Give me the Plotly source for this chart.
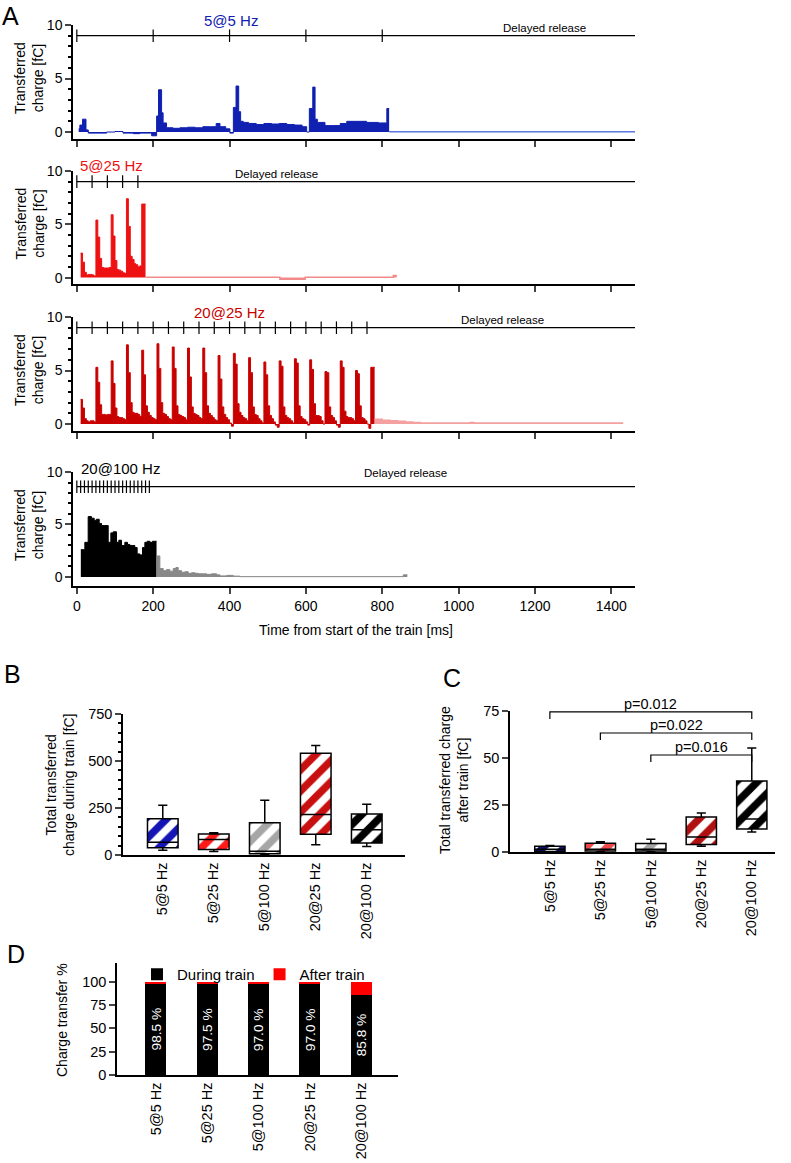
import plotly.graph_objects as go

W, H = 791, 1163
FONT = "Arial, Liberation Sans, sans-serif"


def fx(p):
    return p / W


def fy(p):
    return 1 - p / H


# ---------------- Panel A data (time in ms, charge in fC) ----------------
stim_5at5 = [0, 200, 400, 600, 800]
stim_5at25 = [0, 40, 80, 120, 160]
stim_20at25 = [0, 40, 80, 120, 160, 200, 240, 280, 320, 360,
               400, 440, 480, 520, 560, 600, 640, 680, 720, 760]
stim_20at100 = [0, 10, 20, 30, 40, 50, 60, 70, 80, 90,
                100, 110, 120, 130, 140, 150, 160, 170, 180, 190]

# 5@5 Hz: step starts and values
t_5at5 = [5, 8, 15, 24, 30, 78, 100, 121, 148, 165, 196,
          209, 214, 222, 226, 235, 252, 270, 290, 310, 330, 350, 365, 375, 390, 401,
          410, 417, 424, 429, 436, 450, 470, 490, 510, 530, 550, 570, 590, 602,
          609, 618, 624, 630, 650, 672, 690, 707, 730, 759, 790, 812]
q_5at5 = [0.3, 0.65, 1.2, 0.2, -0.1, 0.0, 0.05, -0.1, -0.15, -0.1, -0.35,
          1.5, 3.95, 1.8, 0.85, 0.4, 0.35, 0.4, 0.45, 0.4, 0.5, 0.5, 0.8, 0.5, 0.3, -0.1,
          2.3, 4.3, 1.9, 1.0, 0.9, 0.8, 0.7, 0.8, 0.75, 0.8, 0.7, 0.65, 0.5, 0.0,
          2.2, 4.2, 1.2, 0.9, 0.6, 0.6, 0.8, 1.0, 1.0, 0.9, 0.85, 2.2]
end_5at5 = 818
tail_t_5at5 = [818]
tail_q_5at5 = [0.03]
tail_end_5at5 = 1462

# 5@25 Hz: 5 ms bins from 10 ms
q_5at25 = [2.3, 1.45, 0.5, 0.25, 0.3, 0.3, 0.25, 0.15,
           5.4, 3.8, 1.8, 0.95, 0.9, 0.9, 0.9, 0.95,
           5.9, 3.9, 1.6, 0.75, 0.7, 0.6, 0.45, 0.4,
           7.4, 4.8, 2.0, 1.7, 1.3, 1.2, 1.0, 1.1,
           6.9, 6.9]
tail_t_5at25 = [180, 532, 598, 829]
tail_q_5at25 = [0.03, -0.15, 0.03, 0.2]
tail_end_5at25 = 838

# 20@25 Hz: 5 ms bins from 10 ms
q_20at25 = [2.3, 1.5, 0.5, 0.3, 0.2, 0.3, 0.3, 0.2,
            5.3, 3.9, 1.8, 0.9, 0.9, 0.85, 0.9, 0.9,
            5.9, 3.8, 1.5, 0.7, 0.6, 0.6, 0.5, 0.4,
            7.4, 4.8, 2.0, 1.1, 1.0, 1.0, 0.9, 0.7,
            6.9, 4.6, 1.7, 1.1, 0.8, 0.6, 0.5, 0.4,
            7.5, 5.2, 2.0, 1.0, 0.9, 0.7, 0.5, 0.4,
            7.2, 5.2, 1.7, 0.9, 0.8, 0.7, 0.6, 0.4,
            7.1, 4.4, 1.6, 1.0, 0.9, 0.8, 0.6, 0.5,
            7.1, 4.8, 1.7, 1.0, 0.8, 0.6, 0.4, 0.3,
            6.4, 4.2, 1.6, 0.9, 0.6, 0.4, 0.1, -0.2,
            6.6, 5.6, 1.9, 1.1, 0.8, 0.6, 0.5, 0.3,
            6.2, 4.8, 1.6, 0.9, 0.8, 0.5, 0.3, 0.1,
            5.8, 4.6, 1.7, 0.8, 0.5, 0.2, -0.1, -0.3,
            5.9, 5.4, 1.6, 0.8, 0.6, 0.5, 0.3, 0.1,
            6.1, 5.7, 1.7, 0.7, 0.5, 0.4, 0.2, -0.1,
            6.0, 5.1, 1.9, 0.8, 0.8, 0.7, 0.3, 0.0,
            4.9, 4.8, 1.6, 0.8, 0.6, 0.3, -0.1, -0.3,
            5.9, 5.3, 1.2, 0.7, 0.6, 0.6, 0.5, 0.3,
            5.0, 4.7, 1.7, 0.6, 0.5, 0.3, 0.0, -0.4,
            5.3, 5.3]
tail_t_20at25 = [780, 800, 820, 840, 860, 880, 900, 1030, 1040]
tail_q_20at25 = [0.45, 0.35, 0.3, 0.25, 0.2, 0.15, 0.1, 0.15, 0.1]
tail_end_20at25 = 1431

# 20@100 Hz
t_20at100 = [10.5, 21, 29.7, 38.4, 45.4, 51.6, 58.6, 64.7, 73.4, 82.2, 89.1, 95.2,
             103.9, 110, 117, 125.8, 132.7, 138.9, 145.8, 151.9, 158, 165, 172,
             178.2, 184.3, 191.3, 198.3, 204.4]
q_20at100 = [2.6, 3.3, 5.75, 5.6, 5.4, 5.5, 5.1, 4.9, 4.9, 3.3, 4.2, 4.3,
             3.3, 3.5, 3.0, 3.3, 3.1, 3.0, 3.0, 2.8, 2.2, 2.1, 2.8,
             3.3, 3.4, 3.3, 3.4, 3.4]
end_20at100 = 208.8
tail_t_20at100 = [208.8, 217.5, 226.3, 235, 243.7, 252.5, 259.4, 265.5, 274.3, 283,
                  291.8, 300.5, 309.3, 318, 331.1, 339.9, 353, 366.1, 374.8, 392.3,
                  409.7, 427.2, 855]
tail_q_20at100 = [2.0, 0.8, 0.6, 0.7, 0.55, 0.8, 0.9, 0.6, 0.45, 0.5,
                  0.35, 0.4, 0.35, 0.3, 0.3, 0.25, 0.3, 0.2, 0.1, 0.15,
                  0.08, 0.03, 0.2]
tail_end_20at100 = 865.6

BIN = 5
T0 = 10

# ---------------- Panels B, C, D data ----------------
conditions = ["5@5 Hz", "5@25 Hz", "5@100 Hz", "20@25 Hz", "20@100 Hz"]

b_q1 = [39, 29, 7, 111, 64]
b_med = [68, 82, 20, 216, 134]
b_q3 = [193, 112, 171, 541, 218]
b_low = [25, 18, 4, 54, 45]
b_high = [264, 118, 291, 582, 270]
b_colors = ["#1515b5", "#ff1a1a", "#a6a6a6", "#c81010", "#000000"]

c_q1 = [0.3, 0.5, 0.5, 4.0, 12.2]
c_med = [1.5, 1.5, 1.5, 8.0, 17.5]
c_q3 = [3.0, 4.7, 4.5, 18.6, 37.8]
c_low = [0.2, 0.3, 0.3, 3.0, 10.6]
c_high = [3.5, 5.4, 6.8, 20.7, 55.3]
c_colors = ["#101070", "#f04848", "#a6a6a6", "#b01010", "#000000"]

c_pairs = [("5@5 Hz", "20@100 Hz"), ("5@25 Hz", "20@100 Hz"), ("5@100 Hz", "20@100 Hz")]
c_pvals = ["p=0.012", "p=0.022", "p=0.016"]
c_bracket_y = [74.5, 63.3, 51.6]

d_during = [98.5, 97.5, 97.0, 97.0, 85.8]
d_after = [1.5, 2.5, 3.0, 3.0, 14.2]

fig = go.Figure()


def step_xy(starts, vals, end):
    return list(starts) + [end], list(vals) + [vals[-1]]


def add_step(starts, vals, end, color, ax, width=1):
    x, y = step_xy(starts, vals, end)
    fig.add_trace(go.Scatter(x=x, y=y, mode="lines", line_shape="hv",
                             fill="tozeroy", fillcolor=color,
                             line=dict(color=color, width=width),
                             xaxis="x" + ax, yaxis="y" + ax,
                             showlegend=False, hoverinfo="skip"))


def bins(vals):
    starts = [T0 + BIN * i for i in range(len(vals))]
    return starts, starts[-1] + BIN


# A rows: (axis id, top px, bottom px, ymin, stim, tick-row y)
rows = [("", 25, 139, -0.65, stim_5at5, 9.0),
        ("2", 171, 284, -0.6, stim_5at25, 9.0),
        ("3", 317, 431, -0.65, stim_20at25, 9.0),
        ("4", 472, 586, -0.86, stim_20at100, 8.6)]

XMAX = 1462

# traces
add_step(t_5at5, q_5at5, end_5at5, "#1020b0", "")
add_step(tail_t_5at5, tail_q_5at5, tail_end_5at5, "#5a78e0", "", 1.5)

s, e = bins(q_5at25)
add_step(s, q_5at25, e, "#ee1111", "2")
add_step(tail_t_5at25, tail_q_5at25, tail_end_5at25, "#f28a8a", "2", 1.5)

s, e = bins(q_20at25)
add_step(s, q_20at25, e, "#c80000", "3")
add_step(tail_t_20at25, tail_q_20at25, tail_end_20at25, "#f4a0a0", "3", 1.5)

add_step(t_20at100, q_20at100, end_20at100, "#000000", "4")
add_step(tail_t_20at100, tail_q_20at100, tail_end_20at100, "#888888", "4")

annotations = []
for ax, top, bot, ymin, stim, ty in rows:
    fig.add_trace(go.Scatter(x=[stim[0], XMAX], y=[ty, ty], mode="lines",
                             line=dict(color="black", width=1.2),
                             xaxis="x" + ax, yaxis="y" + ax,
                             showlegend=False, hoverinfo="skip"))
    fig.add_trace(go.Scatter(x=stim, y=[ty] * len(stim), mode="markers",
                             marker=dict(symbol="line-ns", size=9,
                                         line=dict(color="black", width=1.2)),
                             xaxis="x" + ax, yaxis="y" + ax,
                             showlegend=False, hoverinfo="skip"))
    fig.update_layout(**{
        "xaxis" + ax: dict(domain=[fx(73), fx(635)], range=[-10, XMAX],
                           anchor="y" + ax, showline=True, linecolor="black",
                           linewidth=1.5, ticks="outside", ticklen=6, tickwidth=1.5,
                           tickvals=[0, 200, 400, 600, 800, 1000, 1200, 1400],
                           showticklabels=(ax == "4"), showgrid=False, zeroline=False,
                           automargin=False,
                           tickfont=dict(size=14, family=FONT, color="black")),
        "yaxis" + ax: dict(domain=[fy(bot), fy(top)], range=[ymin, 10],
                           anchor="x" + ax, showline=True, linecolor="black",
                           linewidth=1.5, ticks="outside", ticklen=6, tickwidth=1.5,
                           tickvals=[0, 5, 10], showgrid=False, zeroline=False,
                           automargin=False,
                           minor=dict(ticks="outside", dtick=1, ticklen=3,
                                      tickcolor="black", showgrid=False),
                           tickfont=dict(size=14, family=FONT, color="black")),
    })
    annotations.append(dict(text="Transferred<br>charge [fC]", x=fx(29),
                            y=fy((top + bot) / 2 - 4), xref="paper", yref="paper",
                            xanchor="center", yanchor="middle",
                            textangle=-90, showarrow=False,
                            font=dict(size=14, family=FONT, color="black")))

# Train labels (y in page pixels, above the axis top) and "Delayed release" labels
a_labels = [("", "5@5 Hz", 404, 21, "center", "#1020b0", 1226, 9.75),
            ("2", "5@25 Hz", 3, 166, "left", "#ee1111", 524, 9.75),
            ("3", "20@25 Hz", 401, 312, "center", "#c80000", 1114, 9.75),
            ("4", "20@100 Hz", 5, 468, "left", "#000000", 860, 9.9)]
for ax, lab, lx, ly, anc, col, dx, dy in a_labels:
    annotations.append(dict(text=lab, x=lx, y=fy(ly), xref="x" + ax, yref="paper",
                            xanchor=anc, yanchor="middle", showarrow=False,
                            font=dict(size=15, family=FONT, color=col)))
    annotations.append(dict(text="Delayed release", x=dx, y=dy, xref="x" + ax,
                            yref="y" + ax, xanchor="center", yanchor="middle",
                            showarrow=False,
                            font=dict(size=11.5, family=FONT, color="black")))

annotations.append(dict(text="Time from start of the train [ms]", x=fx(356), y=fy(630),
                        xref="paper", yref="paper", xanchor="center", yanchor="middle",
                        showarrow=False, font=dict(size=14, family=FONT, color="black")))


# ---------------- Panels B and C (hatched boxes) ----------------
def add_boxes(ax, q1, med, q3, low, high, colors):
    fig.add_trace(go.Bar(x=conditions, y=[b - a for a, b in zip(q1, q3)], base=q1,
                         width=0.6, xaxis="x" + ax, yaxis="y" + ax,
                         marker=dict(color="white", line=dict(width=0),
                                     pattern=dict(shape="/", fgcolor=colors,
                                                  bgcolor="white", size=15,
                                                  solidity=0.5, fgopacity=1)),
                         showlegend=False, hoverinfo="skip"))
    fig.add_trace(go.Box(x=conditions, q1=q1, median=med, q3=q3,
                         lowerfence=low, upperfence=high, width=0.6,
                         whiskerwidth=0.3, fillcolor="rgba(0,0,0,0)",
                         line=dict(color="black", width=1.5),
                         xaxis="x" + ax, yaxis="y" + ax,
                         showlegend=False, hoverinfo="skip"))


add_boxes("5", b_q1, b_med, b_q3, b_low, b_high, b_colors)
add_boxes("6", c_q1, c_med, c_q3, c_low, c_high, c_colors)

tick_font = dict(size=14.5, family=FONT, color="black")

fig.update_layout(
    xaxis5=dict(domain=[fx(123), fx(405)], range=[-0.78, 4.75], anchor="y5",
                type="category", showline=True, linecolor="black", linewidth=1.5,
                ticks="", tickangle=-90, tickfont=tick_font, showgrid=False,
                automargin=False),
    yaxis5=dict(domain=[fy(855), fy(714)], range=[0, 750], anchor="x5",
                showline=True, linecolor="black", linewidth=1.5, ticks="outside",
                ticklen=6, tickwidth=1.5, dtick=250, showgrid=False, zeroline=False,
                minor=dict(ticks="outside", dtick=50, ticklen=3, tickcolor="black"),
                tickfont=tick_font, automargin=False),
    xaxis6=dict(domain=[fx(510), fx(775)], range=[-0.79, 4.46], anchor="y6",
                type="category", showline=True, linecolor="black", linewidth=1.5,
                ticks="", tickangle=-90, tickfont=tick_font, showgrid=False,
                automargin=False),
    yaxis6=dict(domain=[fy(852), fy(711)], range=[0, 75], anchor="x6",
                showline=True, linecolor="black", linewidth=1.5, ticks="outside",
                ticklen=6, tickwidth=1.5, dtick=25, showgrid=False, zeroline=False,
                tickfont=tick_font, automargin=False),
)

# significance brackets in C
for (a, b), p, h in zip(c_pairs, c_pvals, c_bracket_y):
    fig.add_trace(go.Scatter(x=[a, a, b, b], y=[h - 3.7, h, h, h - 3.7], mode="lines",
                             line=dict(color="black", width=1.2), cliponaxis=False,
                             xaxis="x6", yaxis="y6", showlegend=False, hoverinfo="skip"))
    annotations.append(dict(text=p, x=(conditions.index(a) + conditions.index(b)) / 2,
                            y=h, xref="x6", yref="y6", xanchor="center",
                            yanchor="bottom", yshift=-2,
                            showarrow=False, font=dict(size=14.5, family=FONT, color="black")))

# ---------------- Panel D ----------------
fig.add_trace(go.Bar(x=conditions, y=d_during, name="During train", width=0.41,
                     marker=dict(color="black", line=dict(width=0)),
                     text=[f"{v:.1f} %" for v in d_during], textposition="inside",
                     insidetextanchor="middle", textangle=-90,
                     textfont=dict(size=15.5, family=FONT, color="white"),
                     xaxis="x7", yaxis="y7", hoverinfo="skip"))
fig.add_trace(go.Bar(x=conditions, y=d_after, name="After train", width=0.41,
                     marker=dict(color="#ff0000", line=dict(width=0)),
                     xaxis="x7", yaxis="y7", hoverinfo="skip"))

fig.update_layout(
    barmode="stack",
    boxmode="overlay",
    xaxis7=dict(domain=[fx(117), fx(398)], range=[-0.76, 4.72], anchor="y7",
                type="category", showline=True, linecolor="black", linewidth=1.5,
                ticks="", tickangle=-90, tickfont=tick_font, showgrid=False,
                automargin=False),
    yaxis7=dict(domain=[fy(1075), fy(963)], range=[0, 120], anchor="x7",
                showline=True, linecolor="black", linewidth=1.5, ticks="outside",
                ticklen=6, tickwidth=1.5, tickvals=[0, 25, 50, 75, 100],
                showgrid=False, zeroline=False, tickfont=tick_font, automargin=False),
    legend=dict(orientation="h", x=fx(137), y=fy(958), xanchor="left", yanchor="top",
                traceorder="normal",
                font=dict(size=15, family=FONT, color="black"),
                bgcolor="rgba(0,0,0,0)", itemwidth=30),
)

# axis titles for B, C, D
annotations += [
    dict(text="Total transferred<br>charge during train [fC]", x=fx(60), y=fy(785),
         xref="paper", yref="paper", xanchor="center", yanchor="middle",
         textangle=-90, showarrow=False,
         font=dict(size=14, family=FONT, color="black")),
    dict(text="Total transferred charge<br>after train [fC]", x=fx(454), y=fy(780),
         xref="paper", yref="paper", xanchor="center", yanchor="middle",
         textangle=-90, showarrow=False,
         font=dict(size=14, family=FONT, color="black")),
    dict(text="Charge transfer %", x=fx(62), y=fy(1020),
         xref="paper", yref="paper", xanchor="center", yanchor="middle",
         textangle=-90, showarrow=False,
         font=dict(size=14, family=FONT, color="black")),
]

# panel letters (top edge given in page pixels)
for letter, lx, ly in [("A", 10, 0), ("B", 13, 658), ("C", 452, 662), ("D", 16, 938)]:
    annotations.append(dict(text=letter, x=fx(lx), y=fy(ly), xref="paper", yref="paper",
                            xanchor="center", yanchor="top", showarrow=False,
                            font=dict(size=25, family=FONT, color="black")))

fig.update_layout(
    width=W, height=H,
    margin=dict(l=0, r=0, t=0, b=0, autoexpand=False),
    plot_bgcolor="white", paper_bgcolor="white",
    font=dict(family=FONT, color="black"),
    annotations=annotations,
    showlegend=True,
)

# remove the browser's default page margin so the figure starts at the corner
fig.write_html("out.html", config={"displayModeBar": False},
               post_script="document.body.style.margin = '0px';")
